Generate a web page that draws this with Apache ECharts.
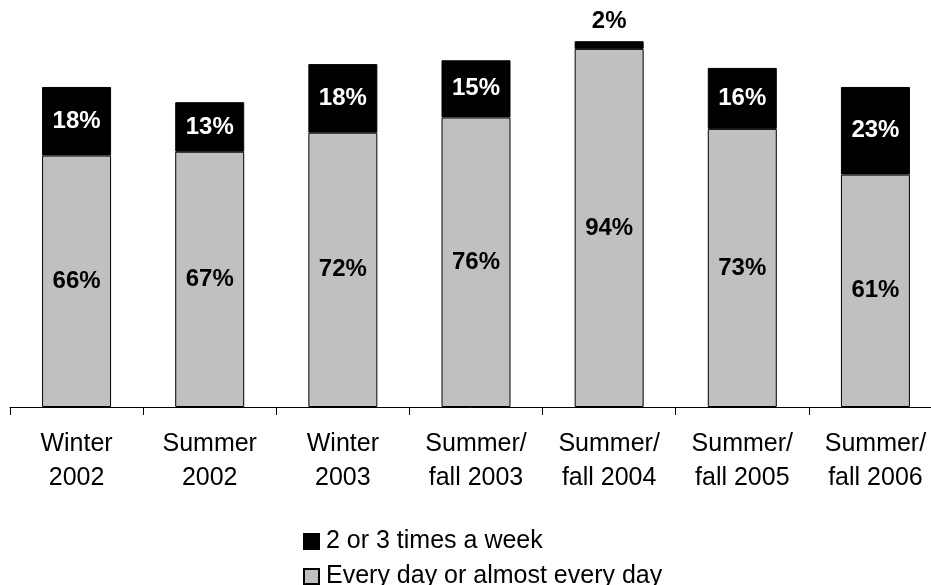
<!DOCTYPE html>
<html>
<head>
<meta charset="utf-8">
<script src="https://cdn.jsdelivr.net/npm/echarts@6/dist/echarts.min.js"></script>
<style>
  html, body { margin: 0; padding: 0; background: #fff; }
  #chart { width: 931px; height: 585px; }
</style>
</head>
<body>
<div id="chart"></div>
<script>
// Survey periods along the x axis
const categories = [
  'Winter\n2002', 'Summer\n2002', 'Winter\n2003', 'Summer/\nfall 2003',
  'Summer/\nfall 2004', 'Summer/\nfall 2005', 'Summer/\nfall 2006'
];
// Share of respondents (%)
const everyDay = [66, 67, 72, 76, 94, 73, 61];
const twoThreeWeek = [18, 13, 18, 15, 2, 16, 23];
// Legend entries
const legendNames = ['2 or 3 times a week', 'Every day or almost every day'];

const FONT = 'Liberation Sans, Arial, sans-serif';

const chart = echarts.init(document.getElementById('chart'));

const legendBase = {
  orient: 'vertical',
  left: 298,
  itemWidth: 15,
  itemHeight: 15,
  itemGap: 8,
  icon: 'rect',
  textStyle: { fontFamily: FONT, fontSize: 25, color: '#000', padding: [0, 0, 0, 2] }
};

chart.setOption({
  animation: false,
  backgroundColor: '#ffffff',
  // the last category runs slightly past the right edge of the canvas
  grid: { left: 10, right: -11, top: 26, bottom: 178, outerBoundsMode: 'none' },
  legend: [
    Object.assign({}, legendBase, { top: 524, data: [legendNames[0]] }),
    Object.assign({}, legendBase, { top: 559, data: [legendNames[1]] })
  ],
  xAxis: {
    type: 'category',
    data: categories,
    axisLine: { lineStyle: { color: '#000', width: 1 } },
    axisTick: { show: true, length: 8, lineStyle: { color: '#000' } },
    axisLabel: {
      fontFamily: FONT, fontSize: 25, color: '#000',
      lineHeight: 34, margin: 20, interval: 0
    }
  },
  yAxis: {
    type: 'value', min: 0, max: 100, show: false,
    splitLine: { show: false }
  },
  series: [
    {
      name: legendNames[1],
      type: 'bar',
      stack: 'total',
      barWidth: 69,
      data: everyDay,
      itemStyle: { color: '#c0c0c0', borderColor: '#000', borderWidth: 1 },
      label: {
        show: true, position: 'inside', formatter: '{c}%',
        fontFamily: FONT, fontSize: 24, fontWeight: 'bold', color: '#000'
      }
    },
    {
      name: legendNames[0],
      type: 'bar',
      stack: 'total',
      barWidth: 69,
      data: twoThreeWeek.map(v => v < 5
        ? { value: v, label: { position: 'top', color: '#000', distance: 8 } }
        : v),
      itemStyle: { color: '#000', borderColor: '#000', borderWidth: 1 },
      label: {
        show: true, position: 'inside', formatter: '{c}%',
        fontFamily: FONT, fontSize: 24, fontWeight: 'bold', color: '#fff'
      }
    }
  ]
});
</script>
</body>
</html>
